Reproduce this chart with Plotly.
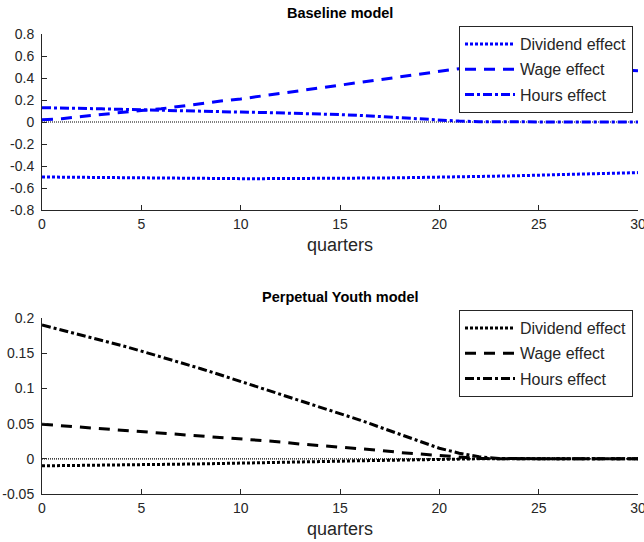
import plotly.graph_objects as go

quarters = list(range(31))

base_dividend = [-0.500, -0.502, -0.505, -0.507, -0.508, -0.510, -0.510, -0.512, -0.513, -0.514,
                 -0.515, -0.515, -0.515, -0.515, -0.514, -0.513, -0.511, -0.509, -0.507, -0.505,
                 -0.502, -0.499, -0.496, -0.492, -0.488, -0.484, -0.480, -0.476, -0.471, -0.466, -0.460]
base_wage = [0.020, 0.030, 0.050, 0.070, 0.090, 0.105, 0.120, 0.145, 0.165, 0.190,
             0.210, 0.235, 0.260, 0.280, 0.305, 0.330, 0.355, 0.380, 0.405, 0.430,
             0.460, 0.485, 0.495, 0.500, 0.500, 0.500, 0.495, 0.490, 0.485, 0.475, 0.465]
base_hours = [0.130, 0.128, 0.125, 0.120, 0.115, 0.110, 0.107, 0.103, 0.100, 0.095,
              0.090, 0.087, 0.083, 0.078, 0.073, 0.067, 0.060, 0.050, 0.040, 0.028,
              0.015, 0.008, 0.003, 0.001, 0.0, 0.0, 0.0, 0.0, 0.0, 0.0, 0.0]

py_dividend = [-0.0100, -0.0098, -0.0095, -0.0090, -0.0087, -0.0083, -0.0080, -0.0076, -0.0072, -0.0068,
               -0.0063, -0.0058, -0.0053, -0.0047, -0.0040, -0.0034, -0.0028, -0.0022, -0.0016, -0.0010,
               -0.0005, -0.0002, 0.0, 0.0, 0.0, 0.0, 0.0, 0.0, 0.0, 0.0, 0.0]
py_wage = [0.049, 0.047, 0.045, 0.043, 0.041, 0.039, 0.037, 0.035, 0.033, 0.030,
           0.028, 0.026, 0.024, 0.021, 0.019, 0.017, 0.014, 0.012, 0.009, 0.007,
           0.004, 0.002, 0.0005, 0.0, 0.0, 0.0, 0.0, 0.0, 0.0, 0.0, 0.0]
py_hours = [0.190, 0.183, 0.176, 0.169, 0.161, 0.153, 0.145, 0.137, 0.128, 0.119,
            0.110, 0.101, 0.092, 0.083, 0.074, 0.065, 0.055, 0.045, 0.035, 0.025,
            0.015, 0.008, 0.003, 0.0005, 0.0, 0.0, 0.0, 0.0, 0.0, 0.0, 0.0]
zero_line = [0.0] * 31

names = ["Dividend effect", "Wage effect", "Hours effect"]
dashes = ["3px,2px", "11px,8px", "9px,3px,3px,3px"]

x_ticks = [0, 5, 10, 15, 20, 25, 30]
top_ticks = [-0.8, -0.6, -0.4, -0.2, 0, 0.2, 0.4, 0.6, 0.8]
top_tick_text = ["-0.8", "-0.6", "-0.4", "-0.2", "0", "0.2", "0.4", "0.6", "0.8"]
bot_ticks = [-0.05, 0, 0.05, 0.1, 0.15, 0.2]
bot_tick_text = ["-0.05", "0", "0.05", "0.1", "0.15", "0.2"]

W, H = 644, 542
FONT = "Liberation Sans"

fig = go.Figure()

# zero lines
fig.add_trace(go.Scatter(x=quarters, y=zero_line, mode="lines", showlegend=False,
                         line=dict(color="black", width=1.2, dash="1px,1px"), xaxis="x", yaxis="y"))
fig.add_trace(go.Scatter(x=quarters, y=zero_line, mode="lines", showlegend=False,
                         line=dict(color="black", width=1.2, dash="1px,1px"), xaxis="x2", yaxis="y2"))

for i, (ys, nm) in enumerate(zip([base_dividend, base_wage, base_hours], names)):
    fig.add_trace(go.Scatter(x=quarters, y=ys, mode="lines", name=nm, legend="legend",
                             legendgroup="a%d" % i,
                             line=dict(color="#0000ff", width=3, dash=dashes[i]), xaxis="x", yaxis="y"))
for i, (ys, nm) in enumerate(zip([py_dividend, py_wage, py_hours], names)):
    fig.add_trace(go.Scatter(x=quarters, y=ys, mode="lines", name=nm, legend="legend2",
                             legendgroup="b%d" % i,
                             line=dict(color="black", width=3, dash=dashes[i]), xaxis="x2", yaxis="y2"))

xd = [42 / W, 638 / W]
top_dom = [1 - 210 / H, 1 - 34 / H]
bot_dom = [1 - 494 / H, 1 - 318 / H]

axis_common = dict(showline=True, linecolor="#262626", linewidth=1, ticks="inside", ticklen=5,
                   tickcolor="#262626", showgrid=False, zeroline=False, mirror=False,
                   ticklabeloverflow="allow", automargin=False,
                   tickfont=dict(family=FONT, size=14, color="#262626"))

legend_common = dict(xanchor="left", yanchor="top", bgcolor="white", bordercolor="#262626",
                     borderwidth=1, font=dict(family=FONT, size=16, color="#262626"),
                     tracegroupgap=1.5, itemwidth=50)

quarters_title = dict(text="quarters", font=dict(family=FONT, size=18, color="#262626"), standoff=7)

fig.update_layout(
    width=W, height=H, margin=dict(l=0, r=0, t=0, b=0, autoexpand=False),
    paper_bgcolor="white", plot_bgcolor="white",
    font=dict(family=FONT, color="#262626"),
    xaxis=dict(domain=xd, range=[0, 30], tickvals=x_ticks, anchor="y", title=quarters_title,
               ticklabelstandoff=1, **axis_common),
    yaxis=dict(domain=top_dom, range=[-0.8, 0.8], tickvals=top_ticks, ticktext=top_tick_text,
               anchor="x", ticklabelstandoff=4, **axis_common),
    xaxis2=dict(domain=xd, range=[0, 30], tickvals=x_ticks, anchor="y2", title=quarters_title,
                ticklabelstandoff=1, **axis_common),
    yaxis2=dict(domain=bot_dom, range=[-0.05, 0.2], tickvals=bot_ticks, ticktext=bot_tick_text,
                anchor="x2", ticklabelstandoff=4, **axis_common),
    legend=dict(x=459 / W, y=1 - 26 / H, **legend_common),
    legend2=dict(x=459 / W, y=1 - 310 / H, **legend_common),
    annotations=[
        dict(text="<b>Baseline model</b>", x=0.5 * (xd[0] + xd[1]), y=1 - 13 / H, xref="paper", yref="paper",
             showarrow=False, xanchor="center", yanchor="middle",
             font=dict(family=FONT, size=14.5, color="black")),
        dict(text="<b>Perpetual Youth model</b>", x=0.5 * (xd[0] + xd[1]), y=1 - 297 / H, xref="paper",
             yref="paper", showarrow=False, xanchor="center", yanchor="middle",
             font=dict(family=FONT, size=14.5, color="black")),
    ],
)

fig.write_html("out.html")
